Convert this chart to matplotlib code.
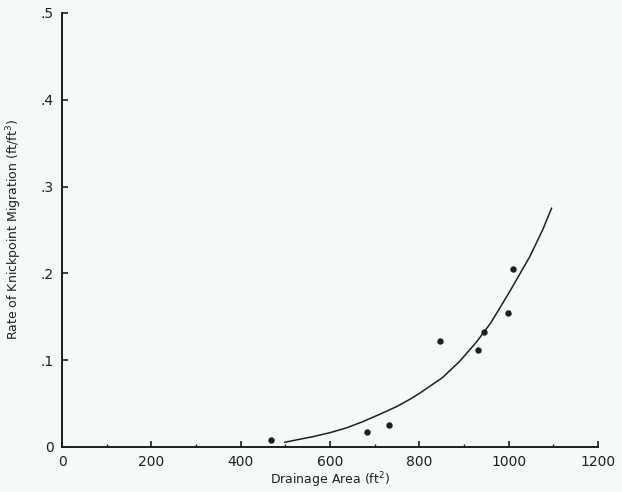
#!/usr/bin/env python3
"""Knickpoint migration rate vs drainage area (scanned figure recreation)."""

import matplotlib
matplotlib.use("Agg")
import matplotlib.pyplot as plt
from matplotlib.ticker import MultipleLocator

# observed points
area_obs = [468, 682, 732, 847, 931, 944, 998, 1009]
rate_obs = [0.008, 0.017, 0.025, 0.122, 0.112, 0.132, 0.154, 0.205]

# fitted curve
area_fit = [499, 532, 562, 600, 638, 673, 711, 749, 779, 801, 852, 890,
            928, 960, 1000, 1047, 1076, 1096]
rate_fit = [0.0054, 0.0089, 0.0119, 0.0165, 0.0222, 0.0291, 0.0376, 0.0465,
            0.0550, 0.0620, 0.0800, 0.0985, 0.121, 0.143, 0.177, 0.219,
            0.250, 0.275]

x_ticks = [0, 200, 400, 600, 800, 1000, 1200]
x_labels = ["0", "200", "400", "600", "800", "1000", "1200"]
y_ticks = [0, 0.1, 0.2, 0.3, 0.4, 0.5]
y_labels = ["0", ".1", ".2", ".3", ".4", ".5"]

BG = "#f6faf7"
INK = "#1e1e1e"

fig = plt.figure(figsize=(6.22, 4.92), dpi=100, facecolor=BG)
ax = fig.add_axes([0.0997, 0.0915, 0.8617, 0.8821], facecolor=BG)

ax.plot(area_fit, rate_fit, color=INK, linewidth=1.1)
ax.plot(area_obs, rate_obs, "o", color=INK, markersize=3.6)

ax.set_xlim(0, 1200)
ax.set_ylim(0, 0.5)
ax.set_xticks(x_ticks)
ax.set_xticklabels(x_labels, fontsize=10, color=INK)
ax.set_yticks(y_ticks)
ax.set_yticklabels(y_labels, fontsize=10, color=INK)
ax.xaxis.set_minor_locator(MultipleLocator(100))

ax.tick_params(axis="both", which="major", direction="in", length=4,
               width=1.2, color=INK, pad=6)
ax.tick_params(axis="x", which="minor", direction="in", length=2.5,
               width=1.0, color=INK)

for side in ("top", "right"):
    ax.spines[side].set_visible(False)
for side in ("left", "bottom"):
    ax.spines[side].set_linewidth(1.4)
    ax.spines[side].set_color(INK)

ax.set_xlabel("Drainage Area (ft$^2$)", fontsize=9, color=INK, labelpad=1)
ax.set_ylabel("Rate of Knickpoint Migration (ft/ft$^3$)", fontsize=9,
              color=INK, labelpad=12)

fig.savefig("out.png", dpi=100, facecolor=BG)
